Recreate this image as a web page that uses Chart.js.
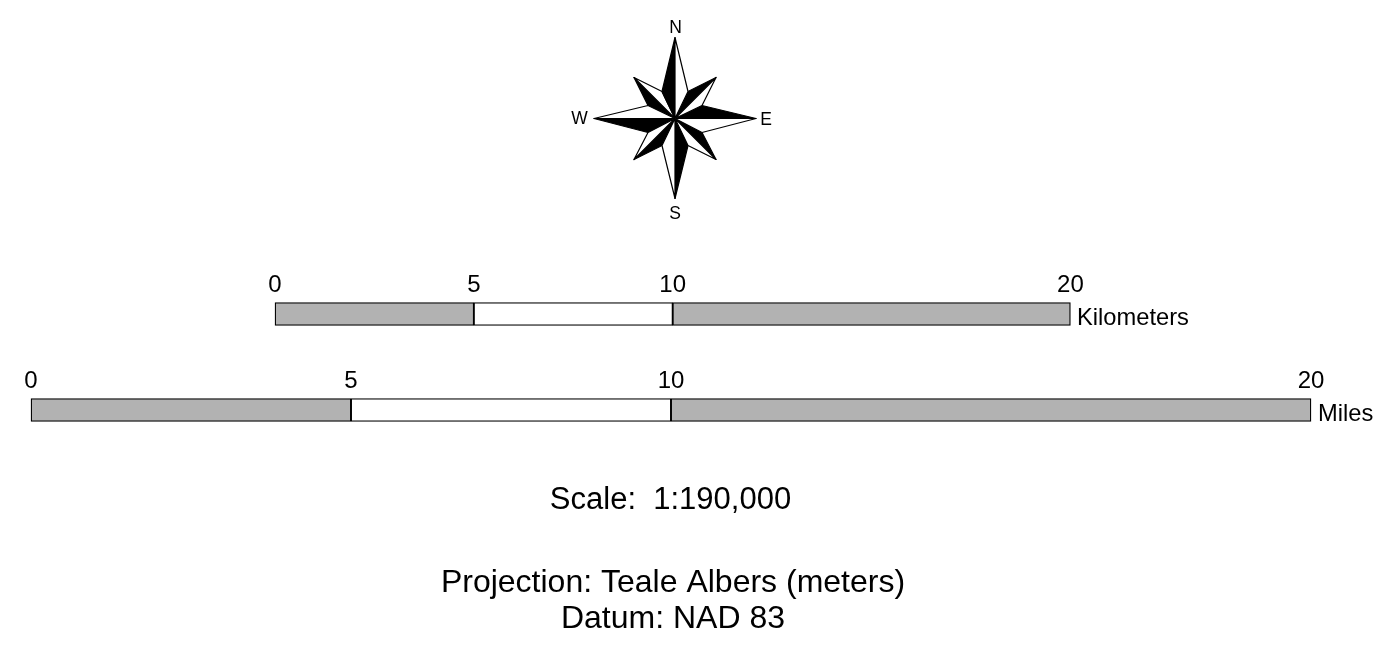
<!DOCTYPE html>
<html>
<head>
<meta charset="utf-8">
<title>Scale bars</title>
<script src="https://cdn.jsdelivr.net/npm/chart.js@4/dist/chart.umd.min.js"></script>
<style>
    html, body { margin: 0; padding: 0; background: #ffffff; overflow: hidden; }
    canvas { display: block; }
</style>
</head>
<body>
<canvas id="scaleChart" width="1383" height="646"></canvas>
<script>
// scale bars
var rows = ['Kilometers', 'Miles'];
var barBreaks = [0, 5, 10, 20];
var barColors = ['#b2b2b2', '#ffffff', '#b2b2b2'];

// compass rose, clockwise from north, units are rose units with the centre at 0,0
var roseLabels = ['N', 'E', 'S', 'W'];
var tipX = [0, 41, 81, 41, 0, -41, -81, -41];
var tipY = [81, 41, 0, -41, -80, -41, 0, 41];
var notchX = [13, 27, 27, 13, -13, -27, -27, -13];
var notchY = [27, 13, -14, -27, -27, -14, 13, 27];

var notes = [
    { text: 'Scale:  1:190,000', x: 670.5, y: 508.5, size: 31, align: 'center' },
    { text: 'Projection: Teale Albers (meters)', x: 673, y: 591.5, size: 32, align: 'center' },
    { text: 'Datum: NAD 83', x: 673, y: 628, size: 32, align: 'center' },
    { text: rows[0], x: 1077, y: 324.5, size: 23.7, align: 'left' },
    { text: rows[1], x: 1318, y: 420.5, size: 23.7, align: 'left' },
    { text: roseLabels[0], x: 675.5, y: 32.5, size: 17.5, align: 'center' },
    { text: roseLabels[1], x: 766, y: 125, size: 17.5, align: 'center' },
    { text: roseLabels[2], x: 675, y: 218.5, size: 17.5, align: 'center' },
    { text: roseLabels[3], x: 579.5, y: 124, size: 17.5, align: 'center' }
];

function barData(row) {
    var out = [];
    for (var i = 0; i < barBreaks.length - 1; i++) {
        out.push({ x: [barBreaks[i], barBreaks[i + 1]], y: row });
    }
    return out;
}

function barDataset(row, axisId) {
    return {
        type: 'bar',
        indexAxis: 'y',
        xAxisID: axisId,
        yAxisID: 'yRows',
        data: barData(row),
        backgroundColor: barColors,
        borderColor: '#000000',
        borderWidth: 1.3,
        borderSkipped: false,
        barThickness: 23,
        grouped: false
    };
}

function roseDataset(points, color) {
    return {
        type: 'scatter',
        xAxisID: 'xRose',
        yAxisID: 'yRose',
        data: points,
        showLine: true,
        fill: 'shape',
        backgroundColor: color,
        borderColor: '#000000',
        borderWidth: 1.2,
        borderJoinStyle: 'round',
        pointRadius: 0,
        tension: 0
    };
}

function roseDatasets() {
    var out = [];
    var centre = { x: 0, y: 0 };
    for (var i = 0; i < tipX.length; i++) {
        var before = (i + tipX.length - 1) % tipX.length;
        var tip = { x: tipX[i], y: tipY[i] };
        out.push(roseDataset([centre, tip, { x: notchX[i], y: notchY[i] }, centre], '#ffffff'));
        out.push(roseDataset([centre, { x: notchX[before], y: notchY[before] }, tip, centre], '#000000'));
    }
    return out;
}

function barAxis(min, max, rowValue) {
    return {
        type: 'linear',
        min: min,
        max: max,
        position: { yRows: rowValue },
        grid: { display: false },
        border: { display: false },
        afterBuildTicks: function (axis) {
            axis.ticks = barBreaks.map(function (v) { return { value: v }; });
        },
        ticks: {
            color: '#000000',
            font: { family: 'Liberation Sans', size: 24 },
            autoSkip: false,
            maxRotation: 0,
            minRotation: 0,
            padding: 0
        }
    };
}

// free text: titles, units and compass letters
var notesPlugin = {
    id: 'notes',
    afterDraw: function (chart) {
        var c = chart.ctx;
        c.save();
        c.fillStyle = '#000000';
        c.textBaseline = 'alphabetic';
        notes.forEach(function (n) {
            c.font = n.size + 'px "Liberation Sans"';
            c.textAlign = n.align;
            c.fillText(n.text, n.x, n.y);
        });
        c.restore();
    }
};

var ctx = document.getElementById('scaleChart').getContext('2d');
var scaleChart = new Chart(ctx, {
    data: {
        datasets: [barDataset(0, 'xKm'), barDataset(1, 'xMi')].concat(roseDatasets())
    },
    options: {
        responsive: false,
        animation: false,
        layout: { padding: 0 },
        plugins: {
            legend: { display: false },
            tooltip: { enabled: false },
            title: { display: false }
        },
        scales: {
            // 1 km = 39.77 px, 1 mile = 64 px on the page
            xKm: barAxis(-275 / 39.77, (1383 - 275) / 39.77, -0.531),
            xMi: barAxis(-31 / 64, (1383 - 31) / 64, 0.469),
            // bar defaults turn offset on for the index axis
            yRows: { type: 'linear', display: false, offset: false, reverse: true, min: -314 / 96, max: (646 - 314) / 96 },
            xRose: { type: 'linear', display: false, min: -675, max: 708 },
            yRose: { type: 'linear', display: false, min: -527.5, max: 118.5 }
        }
    },
    plugins: [notesPlugin]
});
</script>
</body>
</html>
